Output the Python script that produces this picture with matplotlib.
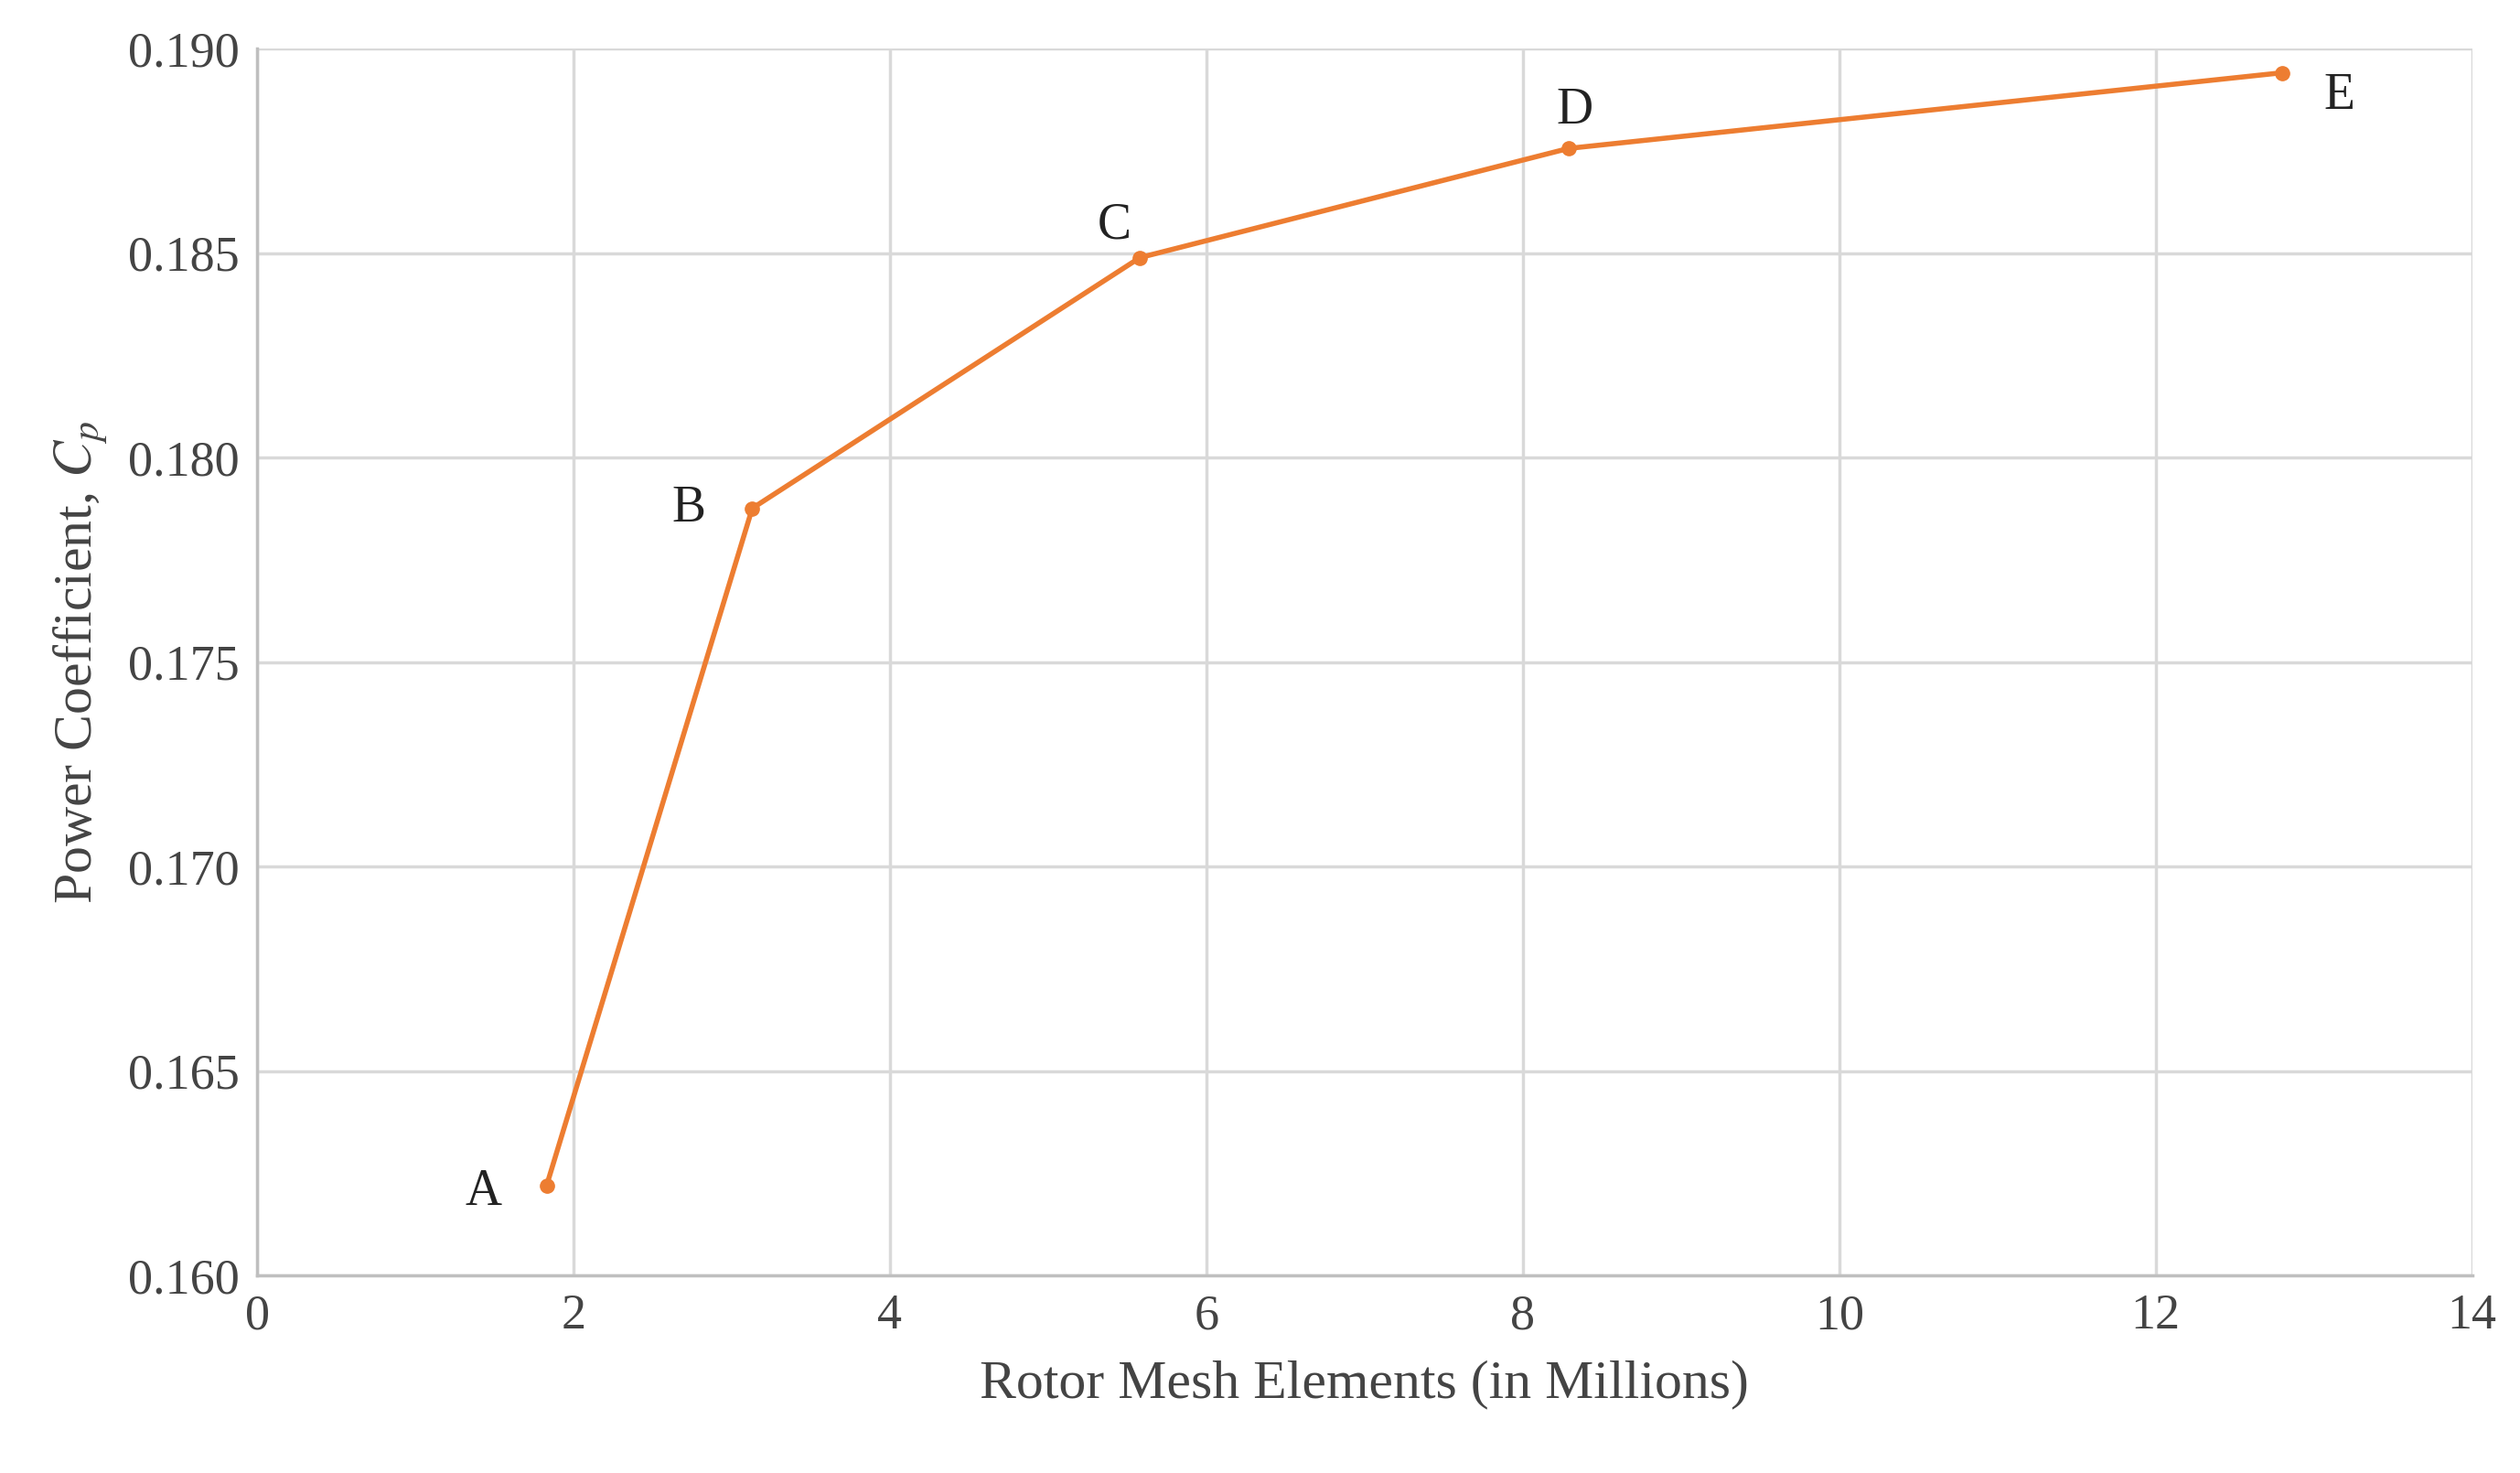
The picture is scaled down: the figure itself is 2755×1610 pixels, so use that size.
import matplotlib.pyplot as plt

mesh = [1.83, 3.13, 5.58, 8.29, 12.80]
cp = [0.1622, 0.17876, 0.18489, 0.18756, 0.18941]
labels = ['A', 'B', 'C', 'D', 'E']
offsets = [(-50, -5), (-50, 0), (-20, 25), (5, 30), (45, -18)]

plt.rcParams['font.family'] = ['Liberation Serif', 'DejaVu Serif']
plt.rcParams['mathtext.fontset'] = 'stix'

fig = plt.figure(figsize=(27.55, 16.10), dpi=100)
ax = fig.add_axes([0.102, 0.134, 0.879, 0.833])

ax.plot(mesh, cp, color='#ED7D31', lw=4, marker='o', ms=11, zorder=3)
for x, y, t, off in zip(mesh, cp, labels, offsets):
    ax.annotate(t, (x, y), xytext=off, textcoords='offset points',
                ha='center', va='center', fontsize=40, color='#222222')

ax.set_xlim(0, 14)
ax.set_ylim(0.160, 0.190)
ax.set_xticks(range(0, 15, 2))
ax.set_yticks([0.160, 0.165, 0.170, 0.175, 0.180, 0.185, 0.190])
ax.yaxis.set_major_formatter(plt.FormatStrFormatter('%.3f'))
ax.grid(True, color='#d9d9d9', lw=2.5)
ax.set_axisbelow(True)
for s in ['top', 'right']:
    ax.spines[s].set_visible(False)
for s in ['left', 'bottom']:
    ax.spines[s].set_color('#bfbfbf')
    ax.spines[s].set_linewidth(2.5)
ax.tick_params(length=0, labelsize=39, colors='#444444', pad=14)
ax.set_xlabel('Rotor Mesh Elements (in Millions)', fontsize=43, color='#444444', labelpad=16)
ax.set_ylabel('Power Coefficient, $C_p$', fontsize=43, color='#444444', labelpad=14)

fig.savefig('out.png')
